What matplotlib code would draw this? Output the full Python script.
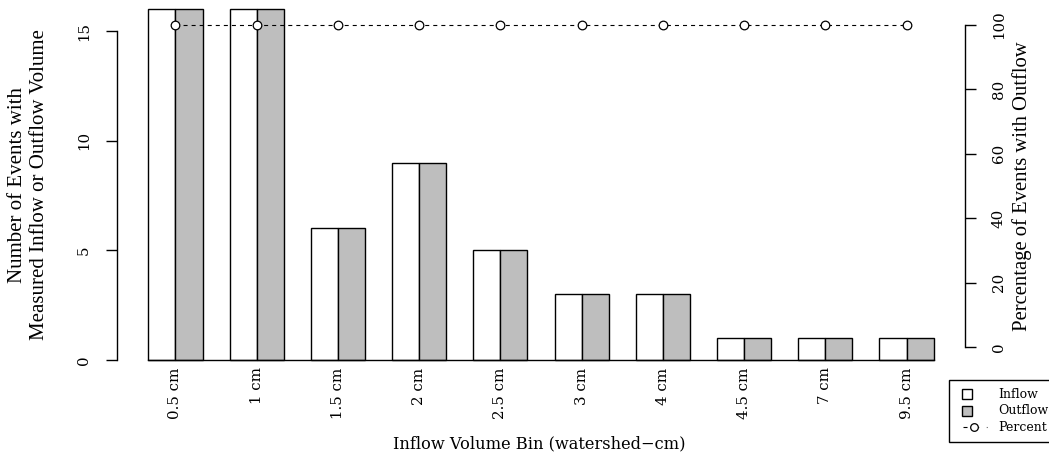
import matplotlib
matplotlib.use("Agg")
import matplotlib.pyplot as plt
import numpy as np
from matplotlib.lines import Line2D
from matplotlib.patches import Rectangle

# ---- data ----
bins = ["0.5 cm", "1 cm", "1.5 cm", "2 cm", "2.5 cm", "3 cm", "4 cm", "4.5 cm", "7 cm", "9.5 cm"]
inflow = [16, 16, 6, 9, 5, 3, 3, 1, 1, 1]
outflow = [16, 16, 6, 9, 5, 3, 3, 1, 1, 1]
percent = [100, 100, 100, 100, 100, 100, 100, 100, 100, 100]
left_ticks = [0, 5, 10, 15]
right_ticks = [0, 20, 40, 60, 80, 100]

W, H = 1049, 458
DPI = 100
plt.rcParams['lines.scale_dashes'] = False
fig = plt.figure(figsize=(W / DPI, H / DPI), dpi=DPI)

def fx(px):
    return px / W

def fy(py):
    return 1 - py / H

# plot region in pixels
L, R, T, B = 117, 965, 12.1, 359.8
ax = fig.add_axes([fx(L), fy(B), fx(R) - fx(L), fy(T) - fy(B)])
ax.patch.set_alpha(0)

n = len(bins)
grp = np.arange(n) * 3
x_in = grp + 1.5
x_out = grp + 2.5
centers = grp + 2.0

lw = 1.0
ax.bar(x_in, inflow, width=1.0, color="white", edgecolor="black", linewidth=lw, clip_on=False, zorder=2)
ax.bar(x_out, outflow, width=1.0, color="#BEBEBE", edgecolor="black", linewidth=lw, clip_on=False, zorder=2)

span = 29.0
ax.set_xlim(1 - 0.04 * span, 30 + 0.04 * span)
unit = 21.9
ax.set_ylim(0, (B - T) / unit)

for s in ["top", "right"]:
    ax.spines[s].set_visible(False)
ax.spines["left"].set_bounds(0, 15)
ax.spines["left"].set_linewidth(lw)
ax.spines["bottom"].set_bounds(1, 30)
ax.spines["bottom"].set_linewidth(lw)

tick_font = dict(family="DejaVu Serif", size=10.8)
ax.set_yticks(left_ticks)
ax.set_yticklabels([str(t) for t in left_ticks], rotation=90, va="center", ha="right", **tick_font)
ax.tick_params(axis="y", direction="out", length=7.9, width=lw, pad=11)

ax.set_xticks(centers)
ax.set_xticklabels(bins, rotation=90, ha="center", va="top", **tick_font)
ax.tick_params(axis="x", length=0, pad=5.5)

# right axis
ax2 = ax.twinx()
ax2.patch.set_alpha(0)
ax2.set_ylim(-4, 104)
for s in ["top", "left", "bottom"]:
    ax2.spines[s].set_visible(False)
ax2.spines["right"].set_bounds(0, 100)
ax2.spines["right"].set_linewidth(lw)
ax2.set_yticks(right_ticks)
ax2.set_yticklabels([str(t) for t in right_ticks], rotation=90, va="center", ha="left", **tick_font)
ax2.tick_params(axis="y", direction="out", length=7.9, width=lw, pad=11.5)
ax2.plot(centers, percent, color="black", linewidth=0.8, linestyle=(0, (2.9, 2.9)),
         marker="o", markersize=6.2, markerfacecolor="white", markeredgecolor="black",
         markeredgewidth=0.9, clip_on=False, zorder=3)

# axis titles
fig.text(fx(539), fy(444), "Inflow Volume Bin (watershed\u2212cm)", ha="center", va="center",
         family="DejaVu Serif", size=11.7)
fig.text(fx(17.5), fy(185), "Number of Events with", rotation=90, ha="center", va="center",
         family="Liberation Serif", size=15)
fig.text(fx(39.5), fy(185), "Measured Inflow or Outflow Volume", rotation=90, ha="center", va="center",
         family="Liberation Serif", size=15)
fig.text(fx(1022), fy(186), "Percentage of Events with Outflow", rotation=90, ha="center", va="center",
         family="Liberation Serif", size=14.9)

# legend
fig.patches.append(Rectangle((fx(949), fy(441.7)), fx(1070) - fx(949), fy(380) - fy(441.7),
                             transform=fig.transFigure, facecolor="white", edgecolor="black",
                             linewidth=lw, zorder=5))
rows = [394, 410.7, 427.3]
sq = 10
for yy, fc in zip(rows[:2], ["white", "#BEBEBE"]):
    fig.patches.append(Rectangle((fx(962), fy(yy + sq / 2)), fx(962 + sq) - fx(962), fy(yy - sq / 2) - fy(yy + sq / 2),
                                 transform=fig.transFigure, facecolor=fc, edgecolor="black",
                                 linewidth=lw, zorder=6))
fig.lines.append(Line2D([fx(963), fx(987)], [fy(rows[2]), fy(rows[2])], transform=fig.transFigure,
                        color="black", linewidth=0.8, linestyle=(0, (2.9, 5.5)), zorder=6))
fig.lines.append(Line2D([fx(974)], [fy(rows[2])], transform=fig.transFigure, color="black",
                        marker="o", markersize=5.5, markerfacecolor="white", markeredgewidth=0.9,
                        linestyle="none", zorder=7))
for yy, lab in zip(rows, ["Inflow", "Outflow", "Percent"]):
    fig.text(fx(998), fy(yy), lab, ha="left", va="center", family="DejaVu Serif", size=9, zorder=7)

fig.savefig("out.png", dpi=DPI)
